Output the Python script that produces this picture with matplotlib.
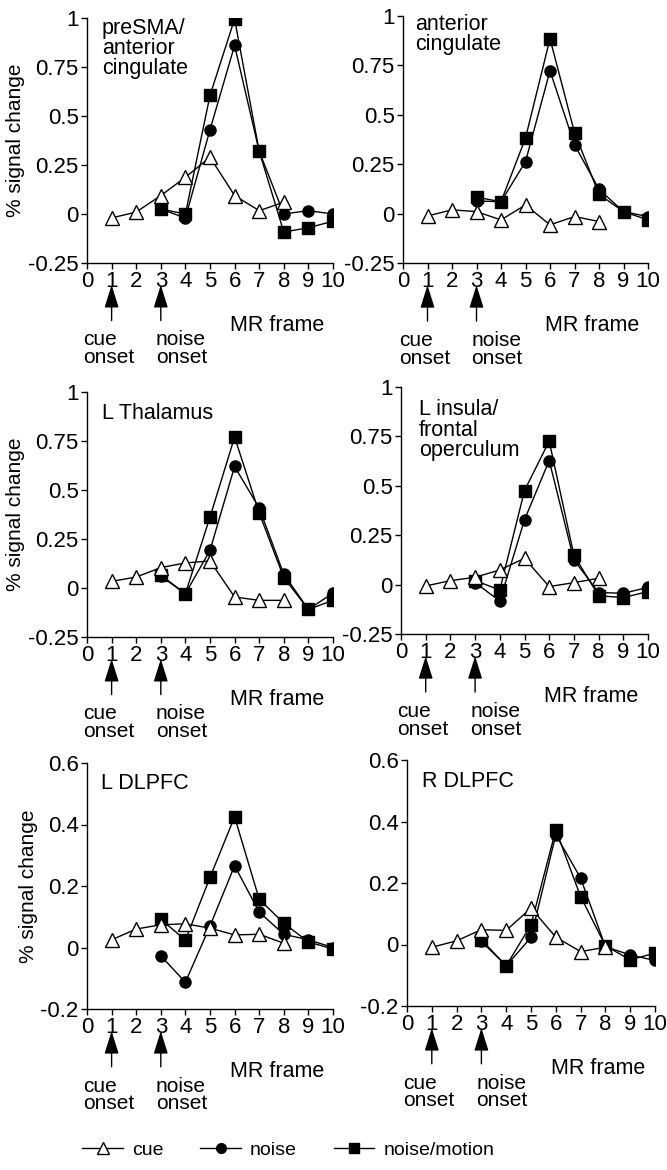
import matplotlib
matplotlib.use("Agg")
import matplotlib.pyplot as plt
from matplotlib.lines import Line2D

plt.rcParams["font.family"] = ["Liberation Sans", "DejaVu Sans"]
plt.rcParams["font.size"] = 15

frames = [1, 2, 3, 4, 5, 6, 7, 8, 9, 10]
cue_frames = [1, 2, 3, 4, 5, 6, 7, 8]
noise_frames = [3, 4, 5, 6, 7, 8, 9, 10]

regions = ["preSMA/\nanterior\ncingulate", "anterior\ncingulate", "L Thalamus",
           "L insula/\nfrontal\noperculum", "L DLPFC", "R DLPFC"]

cue = [
    [-0.02, 0.01, 0.094, 0.187, 0.29, 0.094, 0.017, 0.06],
    [-0.012, 0.019, 0.01, -0.032, 0.044, -0.057, -0.015, -0.04],
    [0.034, 0.056, 0.104, 0.128, 0.138, -0.046, -0.063, -0.063],
    [-0.007, 0.02, 0.037, 0.074, 0.133, -0.01, 0.01, 0.032],
    [0.025, 0.06, 0.074, 0.077, 0.063, 0.041, 0.043, 0.014],
    [-0.009, 0.012, 0.048, 0.046, 0.118, 0.024, -0.023, -0.009],
]
noise = [
    [0.025, -0.02, 0.43, 0.86, 0.32, 0.0, 0.017, 0.0],
    [0.064, 0.06, 0.263, 0.723, 0.348, 0.123, 0.01, -0.015],
    [0.061, -0.029, 0.192, 0.62, 0.408, 0.07, -0.109, -0.026],
    [0.01, -0.083, 0.328, 0.628, 0.125, -0.04, -0.044, -0.014],
    [-0.027, -0.113, 0.07, 0.266, 0.115, 0.043, 0.025, 0.0],
    [0.01, -0.069, 0.023, 0.357, 0.216, -0.007, -0.034, -0.052],
]
noise_motion = [
    [0.025, 0.0, 0.605, 0.995, 0.32, -0.092, -0.07, -0.037],
    [0.083, 0.06, 0.382, 0.885, 0.41, 0.098, 0.01, -0.032],
    [0.065, -0.029, 0.362, 0.77, 0.383, 0.053, -0.109, -0.063],
    [0.02, -0.027, 0.476, 0.726, 0.149, -0.056, -0.066, -0.035],
    [0.092, 0.024, 0.228, 0.425, 0.157, 0.079, 0.018, -0.005],
    [0.015, -0.069, 0.064, 0.373, 0.156, -0.004, -0.05, -0.028],
]

top_ticks = [-0.25, 0, 0.25, 0.5, 0.75, 1]
top_labels = ["-0.25", "0", "0.25", "0.5", "0.75", "1"]
bottom_ticks = [-0.2, 0, 0.2, 0.4, 0.6]
bottom_labels = ["-0.2", "0", "0.2", "0.4", "0.6"]

W, H = 667, 1170
# axes boxes in pixels: left, top, right, bottom
boxes = [
    (87, 18, 333, 263),
    (403, 16, 648, 263),
    (87, 392, 333, 637),
    (401, 387, 648, 634),
    (87, 763, 333, 1009),
    (407, 760, 655, 1006),
]
label_pos = [(0.06, 1.0), (0.05, 1.01), (0.06, 0.955), (0.073, 0.95), (0.055, 0.96), (0.06, 0.955)]


def draw_panel(ax, i):
    ax.plot(noise_frames, noise[i], "-o", color="black", lw=1.0, ms=8, zorder=3)
    ax.plot(noise_frames, noise_motion[i], "-s", color="black", lw=1.0, ms=9, zorder=4)
    ax.plot(cue_frames, cue[i], "-^", color="black", mfc="white", lw=1.0, ms=10, mew=1.0, zorder=5)

    if i < 4:
        ax.set_ylim(-0.25, 1)
        ax.set_yticks(top_ticks, top_labels)
    else:
        ax.set_ylim(-0.2, 0.6)
        ax.set_yticks(bottom_ticks, bottom_labels)
    ax.set_xlim(0, 10)
    ax.set_xticks(range(0, 11))
    ax.spines[["top", "right"]].set_visible(False)
    ax.tick_params(direction="out", length=4, width=1, pad=2, labelsize=16)
    for spine in ax.spines.values():
        spine.set_linewidth(1.0)
    if i % 2 == 0:
        ax.set_ylabel("% signal change", labelpad=2, fontsize=15)

    lx, ly = label_pos[i]
    ax.text(lx, ly, regions[i], transform=ax.transAxes, va="top", ha="left",
            linespacing=0.95, fontsize=15.5)

    tr = ax.get_xaxis_transform()
    for x in (1, 3):
        ax.annotate("", xy=(x, -0.09), xycoords=tr, xytext=(x, -0.235), textcoords=tr,
                    arrowprops=dict(arrowstyle="-|>,head_length=0.7,head_width=0.22",
                                    mutation_scale=20, color="black", lw=1.0,
                                    shrinkA=0, shrinkB=0))
    ax.text(-0.17, -0.275, "cue\nonset", transform=tr, va="top", ha="left",
            linespacing=0.92, fontsize=15)
    ax.text(2.8, -0.275, "noise\nonset", transform=tr, va="top", ha="left",
            linespacing=0.92, fontsize=15)
    ax.text(5.8, -0.255, "MR frame", transform=tr, va="center", ha="left", fontsize=15.5)


def main():
    fig = plt.figure(figsize=(W / 100, H / 100), dpi=100)
    for i, (l, t, r, b) in enumerate(boxes):
        ax = fig.add_axes([l / W, 1 - b / H, (r - l) / W, (b - t) / H])
        draw_panel(ax, i)

    handles = [
        Line2D([], [], color="black", lw=1.0, marker="^", mfc="white", ms=8),
        Line2D([], [], color="black", lw=1.0, marker="o", ms=7),
        Line2D([], [], color="black", lw=1.0, marker="s", ms=7),
    ]
    fig.legend(handles, ["cue", "noise", "noise/motion"], loc="center",
               bbox_to_anchor=(0.432, 20 / H), ncol=3, frameon=False,
               handlelength=2.1, handletextpad=0.45, columnspacing=1.9, fontsize=14)
    fig.savefig("out.png", dpi=100)


if __name__ == "__main__":
    main()
